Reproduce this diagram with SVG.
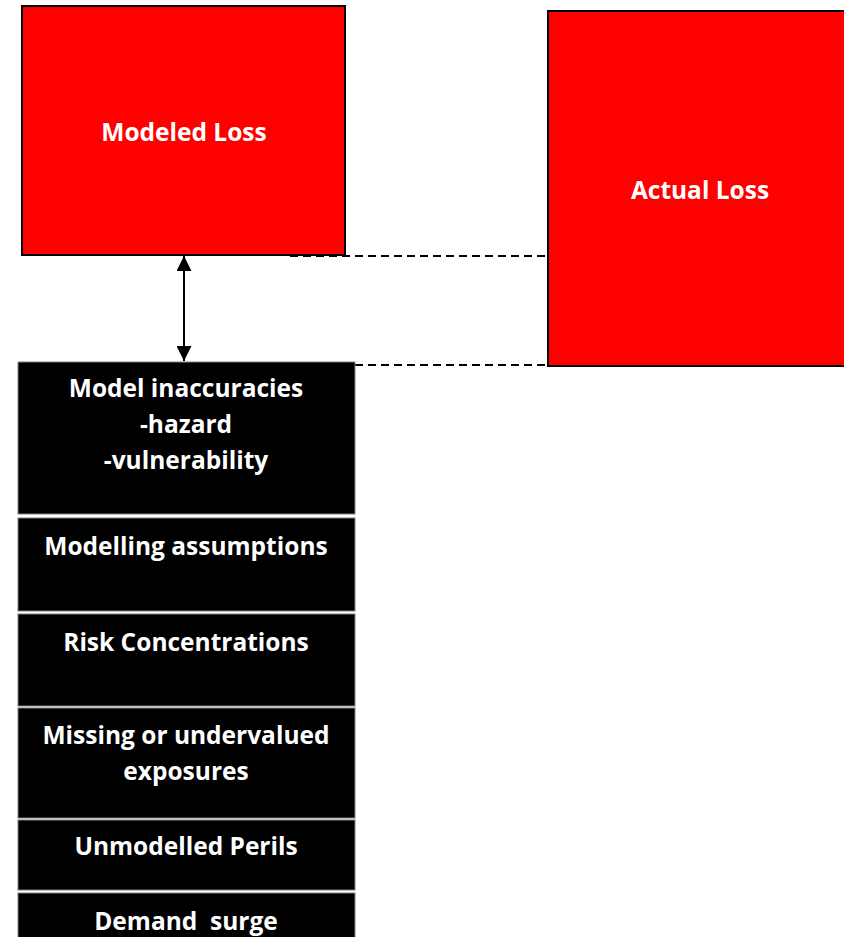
<svg xmlns="http://www.w3.org/2000/svg" width="844" height="937" viewBox="0 0 844 937">
<style>
.red{fill:#ff0000;stroke:#000;stroke-width:2}
.blk{fill:#000;stroke:#7f7f7f;stroke-width:1}
.t{font-family:"Open Sans","Liberation Sans",sans-serif;font-weight:bold;font-size:24.5px;fill:#fff;text-anchor:middle}
.dash{stroke:#000;stroke-width:2;stroke-dasharray:8,5;fill:none}
</style>
<defs>
<marker id="ah" viewBox="0 0 10 10" refX="10" refY="5" markerWidth="7.5" markerHeight="7.5" orient="auto-start-reverse" markerUnits="strokeWidth">
<path d="M0,0 L10,5 L0,10 z" fill="#000"/>
</marker>
</defs>
<rect width="844" height="937" fill="#fff"/>
<g id="connectors">
<line class="dash" x1="290" y1="256" x2="547" y2="256"/>
<line class="dash" x1="355" y1="365" x2="547" y2="365"/>
<line x1="184" y1="256" x2="184" y2="361" stroke="#000" stroke-width="2" marker-start="url(#ah)" marker-end="url(#ah)"/>
</g>
<g id="modeled-loss">
<rect class="red" x="22" y="6" width="323" height="249"/>
<text class="t" x="184" y="141">Modeled Loss</text>
</g>
<g id="actual-loss">
<rect class="red" x="548" y="11" width="300" height="355"/>
<text class="t" x="700" y="199">Actual Loss</text>
</g>
<g id="model-inaccuracies">
<rect class="blk" x="18" y="362" width="337" height="152"/>
<text class="t" x="186" y="397">Model inaccuracies</text>
<text class="t" x="186" y="433">-hazard</text>
<text class="t" x="186" y="469">-vulnerability</text>
</g>
<g id="modelling-assumptions">
<rect class="blk" x="18" y="518" width="337" height="93"/>
<text class="t" x="186" y="555">Modelling assumptions</text>
</g>
<g id="risk-concentrations">
<rect class="blk" x="18" y="614" width="337" height="92"/>
<text class="t" x="186" y="651">Risk Concentrations</text>
</g>
<g id="missing-exposures">
<rect class="blk" x="18" y="708" width="337" height="110"/>
<text class="t" x="186" y="744">Missing or undervalued</text>
<text class="t" x="186" y="780">exposures</text>
</g>
<g id="unmodelled-perils">
<rect class="blk" x="18" y="820" width="337" height="70"/>
<text class="t" x="186" y="855">Unmodelled Perils</text>
</g>
<g id="demand-surge">
<rect class="blk" x="18" y="893" width="337" height="50"/>
<text class="t" x="186" y="930" xml:space="preserve">Demand  surge</text>
</g>
</svg>
